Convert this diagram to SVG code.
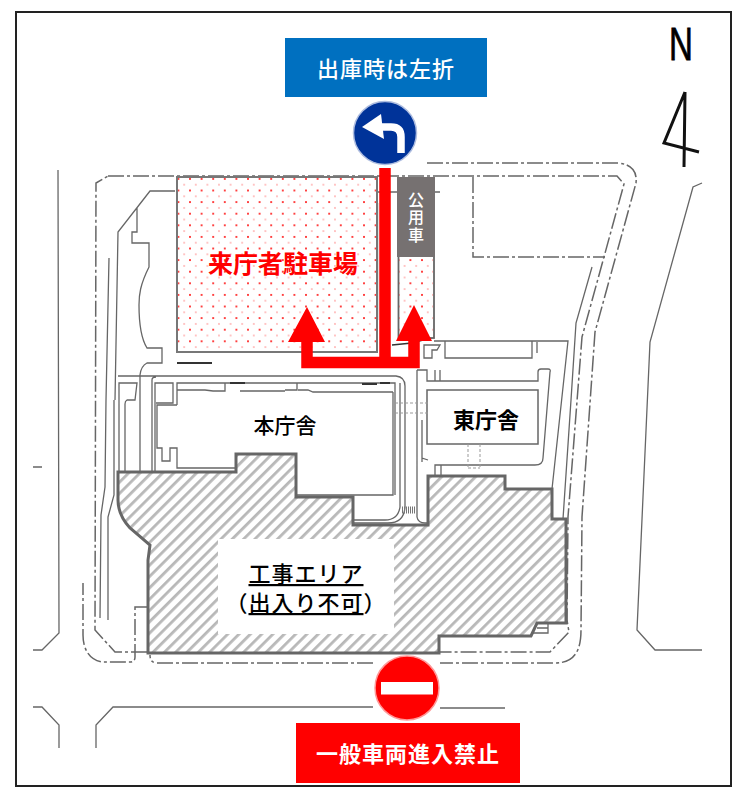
<svg xmlns="http://www.w3.org/2000/svg" width="755" height="800" viewBox="0 0 755 800">
<style>
.l{fill:none;stroke:#666;stroke-width:1.3}
.d{fill:none;stroke:#666;stroke-width:1.5;stroke-dasharray:16 3 3 3}
.f{fill:none;stroke:#999;stroke-width:1;stroke-dasharray:3 2}
.j{font-family:"Noto Sans CJK JP","Noto Sans CJK SC",sans-serif;text-anchor:middle}
</style>
<defs>
<pattern id="dots" width="11.6" height="11.6" patternUnits="userSpaceOnUse" patternTransform="translate(1.5,2)">
<circle cx="2.9" cy="2.9" r="0.95" fill="#f00"/><circle cx="8.7" cy="8.7" r="0.7" fill="#f66"/>
</pattern>
<pattern id="hatch" width="8" height="8" patternUnits="userSpaceOnUse" patternTransform="rotate(-45)">
<rect width="8" height="8" fill="#fff"/><rect y="0" width="8" height="2.8" fill="#b8b8b8"/>
</pattern>
</defs>
<rect width="755" height="800" fill="#fff"/>
<rect x="16" y="12" width="715" height="774" fill="#fff" stroke="#222" stroke-width="2"/>

<g id="site-plan">
<path class="l" d="M58 170L59 633L42 650H33M33 467H42M33 707H42L59 725V748M96 748V725L113 707H373M440 708H505"/>
<path class="l" d="M702 183L693 187L650 342L637 630L655 650H702"/>
<path class="d" d="M427 163H618Q638 165 636 183L595 332L582 517L581 630C581 650 575 663 555 663H440M373 663H157Q150 663 150 655M148 607H135V657Q135 662 130 662H102C90 660 83 650 83 635V583"/>
<path class="d" d="M108 176H617L624 184L582 337L568 517L567 620L569 632L550 652H440M147 652H115L95 630L96 183L108 176"/>
<path class="d" d="M473 177V257H605"/>
<path class="l" d="M592 267L576 323L571 400L563 519"/>
<path class="l" d="M109 258L106 400L105 487L101 515L100 618M114 400L114 495L108 517L108 620"/>
<path class="l" d="M175 191H150L118 232L115 400M137 208V232H132V243H149V267C140 285 139 295 139 305C139 325 142 340 147 348H162V363H147Q141 366 140 375V472"/>
<path d="M212 363H177" stroke="#333" stroke-width="2" fill="none"/>
<path class="l" d="M119 472V383H137L135 400H127Q125 401 125 404V472M118 376H396Q405 377 405 386V507Q404 523 388 523H353M152 472V380Q152 377 156 377M155 472V383H173V403H156M400 383V507Q398 520 385 520H353"/>
<path class="l" d="M177 405H157V448H162V461H170V448H177V468H235M177 405V383H225V391H213L205 390H177M225 383H395V495M285 390H297V383M298 390H308L313 392H393M240 391H285M393 392V495H296"/>
<path d="M230 383H245M362 384H377M380 383H390" stroke="#333" stroke-width="2" fill="none"/>
<path d="M402 510H416" stroke="#777" stroke-width="7" stroke-dasharray="1 1" fill="none"/>
<path class="l" d="M417 370V517Q418 523 425 523H428M422 420V458L428 460M417 370H427V381H538V372Q538 369 541 369H548Q551 369 550 372L543 458Q543 465 535 465H435V475M441 465V475M422 462V423M435 370V381M440 370V381"/>
<rect x="427" y="390" width="111" height="54" fill="#fff" stroke="#666" stroke-width="1.5"/>
<path class="f" d="M395 403H428M395 413H428M468 444V468M480 444V468M468 468H480"/>
<path class="l" d="M434 341H568L552 489M445 341V358H532V341M537 342V353M424 345H440L437 350H432V358H424Z"/>
<path d="M392 345L412 343L434 337" stroke="#333" stroke-width="1.500" fill="none"/>
<path class="l" d="M377 192H440"/>
<path d="M377 203V320" stroke="#888" stroke-width="2.500" fill="none"/>
</g>

<g id="construction-area">
<path d="M118 472H236V454H296V497H353V525H428V476H505V489H552V519H566V623H537L531 636H439V653H148V560L150 545L130 528Q118 515 118 500Z" fill="url(#hatch)" stroke="#666" stroke-width="3"/>
<path class="l" d="M537 623H548V633H533M537 628H548" stroke-width="1"/>
<rect x="218" y="539" width="176" height="95" fill="#fff"/>
<text class="j" x="306" y="582" font-size="22" font-weight="500" letter-spacing="1" fill="#000" text-decoration="underline">工事エリア</text>
<text class="j" x="306" y="611" font-size="22" font-weight="500" letter-spacing="1" fill="#000">（<tspan text-decoration="underline">出入り不可</tspan>）</text>
</g>

<g id="visitor-parking">
<rect x="177" y="177" width="200" height="175" fill="#fff" stroke="#777" stroke-width="2"/>
<rect x="178" y="178" width="198" height="173" fill="url(#dots)"/>
<text class="j" x="283" y="273" font-size="25" font-weight="700" fill="#f00">来庁者駐車場</text>
</g>

<g id="official-parking">
<rect x="398.500" y="200" width="35.500" height="138" fill="#fff" stroke="#666" stroke-width="1.800"/>
<rect x="399.500" y="258" width="33.500" height="79" fill="url(#dots)"/>
<rect x="397" y="177" width="38" height="80" fill="#767171"/>
<text class="j" x="416" y="218" font-size="16" font-weight="500" fill="#fff" style="writing-mode:vertical-rl;letter-spacing:1.500px">公用車</text>
</g>

<g id="main-building"><text class="j" x="285" y="433" font-size="21" font-weight="500" fill="#000">本庁舎</text></g>
<g id="east-building"><text class="j" x="486" y="428" font-size="22" font-weight="700" fill="#000">東庁舎</text></g>

<g id="connectors">
<path d="M385 168V362.500H307V335M385 362.500H414V335" fill="none" stroke="#f00" stroke-width="11.500"/>
<path d="M307 307L288 342H325ZM414 305L396 341H432Z" fill="#f00"/>
</g>

<g id="exit-label">
<rect x="285" y="38" width="202" height="59" fill="#0070c0"/>
<text class="j" x="386" y="77" font-size="22" font-weight="500" letter-spacing="1" fill="#fff">出庫時は左折</text>
</g>

<g id="left-turn-sign">
<circle cx="385" cy="133" r="31.500" fill="#003399" stroke="#aebde0" stroke-width="1.500"/>
<path d="M372 127H391Q401 127 401 137V153" fill="none" stroke="#fff" stroke-width="7.500"/>
<path d="M362 127L381 114L384 139Z" fill="#fff"/>
</g>

<g id="no-entry-sign">
<circle cx="407" cy="688" r="32" fill="#f00" stroke="#f99" stroke-width="1.500"/>
<rect x="381" y="682" width="52" height="12.500" fill="#fff"/>
</g>

<g id="no-entry-label">
<rect x="296" y="723" width="224" height="60" fill="#f00"/>
<text class="j" x="408" y="762" font-size="22" font-weight="700" letter-spacing="1" fill="#fff">一般車両進入禁止</text>
</g>

<g id="north-mark">
<text transform="translate(669,60) scale(0.72,1)" x="0" y="0" font-family="'Liberation Sans',sans-serif" font-size="46" fill="#000" stroke="#000" stroke-width="0.8">N</text>
<path d="M685 92L684 167M685 92L664 143L699 152" fill="none" stroke="#111" stroke-width="3"/>
</g>
</svg>
